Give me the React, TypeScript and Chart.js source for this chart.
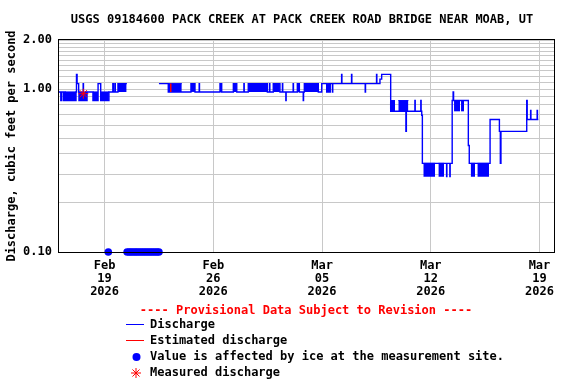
import React, { useEffect, useRef } from 'react';
import { Chart, registerables } from 'chart.js';

Chart.register(...registerables);

const TITLE = 'USGS 09184600 PACK CREEK AT PACK CREEK ROAD BRIDGE NEAR MOAB, UT';
const Y_TITLE = 'Discharge, cubic feet per second';
const PROVISIONAL = '---- Provisional Data Subject to Revision ----';
const LEGEND_LABELS = [
  'Discharge',
  'Estimated discharge',
  'Value is affected by ice at the measurement site.',
  'Measured discharge',
];

// x values are days since 2026-02-16 00:00
const X_MIN = 0;
const X_MAX = 32;
const xTickDays = [3, 10, 17, 24, 31];
const xTickLabels = [
  ['Feb', '19', '2026'],
  ['Feb', '26', '2026'],
  ['Mar', '05', '2026'],
  ['Mar', '12', '2026'],
  ['Mar', '19', '2026'],
];

const Y_MIN = 0.1;
const Y_MAX = 2;
const yGridValues = [0.1, 0.2, 0.3, 0.4, 0.5, 0.6, 0.7, 0.8, 0.9, 1, 1.1, 1.2, 1.3, 1.4, 1.5, 1.6, 1.7, 1.8, 1.9, 2];
const yTickLabels: Record<string, string> = { '0.1': '0.10', '1': '1.00', '2': '2.00' };

// Discharge (cfs), step values: [day, value] value holds until next day
const dischargeSteps: [number, number | null][] = [
  [0.0, 0.96], [0.18, 0.85], [0.24, 0.96], [0.36, 0.85], [0.42, 0.96],
  [0.45, 0.85], [1.16, 0.96], [1.19, 1.23], [1.23, 1.08], [1.33, 0.96],
  [1.35, 0.85], [1.62, 1.08], [1.64, 0.85], [1.87, 0.96], [2.25, 0.85],
  [2.58, 1.08], [2.75, 0.85], [3.28, 0.96], [3.53, 1.08], [3.56, 0.96],
  [3.66, 1.08], [3.69, 0.96], [3.86, 1.08], [4.42, 1.08], [4.46, null],
  [6.5, 1.08], [7.1, 0.96], [7.97, 0.96], [8.56, 1.08], [8.82, 0.96],
  [9.09, 1.08], [9.11, 0.96], [10.43, 1.08], [10.54, 0.96], [11.29, 1.08],
  [11.51, 0.96], [11.97, 1.08], [11.99, 0.96], [12.25, 1.08], [13.48, 0.96],
  [13.62, 1.08], [13.64, 0.96], [13.86, 1.08], [14.29, 0.96], [14.45, 1.08],
  [14.47, 0.96], [14.67, 0.85], [14.69, 0.96], [15.14, 1.08], [15.16, 0.96],
  [15.41, 1.08], [15.54, 0.96], [15.79, 0.85], [15.81, 0.96], [15.86, 1.08],
  [16.76, 0.96], [16.98, 1.08], [17.3, 0.96], [17.45, 1.08], [17.51, 0.96],
  [17.53, 1.08], [17.67, 0.96], [17.69, 1.08], [18.26, 1.23], [18.28, 1.08],
  [18.9, 1.23], [18.92, 1.08], [19.78, 0.96], [19.8, 1.08], [20.51, 1.23],
  [20.53, 1.08], [20.73, 1.15], [20.84, 1.23], [21.42, 0.73], [21.7, 0.73],
  [22.4, 0.55], [22.43, 0.73], [22.98, 0.85], [23.0, 0.73], [23.36, 0.85],
  [23.38, 0.73], [23.42, 0.69], [23.46, 0.35], [25.02, 0.29], [25.04, 0.35],
  [25.23, 0.29], [25.25, 0.35], [25.38, 0.85], [25.44, 0.96], [25.47, 0.85],
  [26.42, 0.45], [26.48, 0.35], [27.82, 0.65], [28.42, 0.55], [28.48, 0.35],
  [28.52, 0.55], [30.18, 0.85], [30.21, 0.65], [30.43, 0.74], [30.45, 0.65],
  [30.85, 0.74], [30.87, 0.65], [30.93, 0.65],
];

// Rapidly alternating periods: [start, end] days, drawn between a top and bottom value
const blocks096over085: [number, number][] = [[0.45, 1.16], [1.35, 1.87], [2.25, 2.58], [2.75, 3.28]];
const blocks108over096: [number, number][] = [
  [3.86, 4.42], [7.1, 7.97], [8.56, 8.82], [10.43, 10.54], [11.29, 11.51],
  [12.25, 13.48], [13.86, 14.29], [15.41, 15.54], [15.86, 16.76], [17.3, 17.45],
];
const blocks085over073: [number, number][] = [[21.42, 21.7], [21.91, 22.56], [25.5, 25.89], [25.95, 26.14]];
const blocks035over029: [number, number][] = [[23.52, 24.28], [24.49, 24.86], [26.57, 26.85], [27.0, 27.75]];

const estimatedSegment: [number, number][] = [[7.26, 1.08], [7.26, 0.96]];
const measuredPoints: [number, number][] = [[1.63, 0.936]];
const iceDays = [3.24, 4.45, 4.58, 4.7, 4.83, 4.96, 5.08, 5.21, 5.34, 5.47, 5.6, 5.73, 5.86, 5.99, 6.12, 6.25, 6.38, 6.5];
const ICE_VALUE = 0.1;

const BLUE = '#0000ff';
const RED = '#ff0000';
const FONT = '"DejaVu Sans Mono", monospace';

function blockData(spans: [number, number][], top: number) {
  const out: { x: number; y: number | null }[] = [];
  spans.forEach(([s, e], i) => {
    if (i > 0) out.push({ x: (spans[i - 1][1] + s) / 2, y: null });
    out.push({ x: s, y: top }, { x: e, y: top });
  });
  return out;
}

function blockDataset(spans: [number, number][], top: number, bottom: number) {
  return {
    data: blockData(spans, top),
    borderColor: BLUE,
    backgroundColor: BLUE,
    borderWidth: 1,
    pointRadius: 0,
    fill: { value: bottom },
    spanGaps: false,
  };
}

const decorPlugin = {
  id: 'decor',
  afterDraw(chart: any) {
    const { ctx, chartArea: a } = chart;
    ctx.save();
    // frame
    ctx.strokeStyle = '#000';
    ctx.lineWidth = 1;
    ctx.strokeRect(Math.round(a.left) + 0.5, Math.round(a.top) - 0.5, Math.round(a.right - a.left) - 1, Math.round(a.bottom - a.top) + 1);
    // title
    ctx.font = `bold 12px ${FONT}`;
    ctx.fillStyle = '#000';
    ctx.textAlign = 'center';
    ctx.textBaseline = 'middle';
    ctx.fillText(TITLE, 302, 19.5);
    // provisional
    ctx.fillStyle = RED;
    ctx.fillText(PROVISIONAL, 306, 311);
    // legend rows
    const rowsY = [325, 341, 357, 373];
    ctx.textAlign = 'left';
    ctx.fillStyle = '#000';
    LEGEND_LABELS.forEach((t, i) => ctx.fillText(t, 150, rowsY[i]));
    ctx.lineWidth = 1;
    ctx.strokeStyle = BLUE;
    ctx.beginPath();
    ctx.moveTo(126, rowsY[0] - 0.5);
    ctx.lineTo(144, rowsY[0] - 0.5);
    ctx.stroke();
    ctx.strokeStyle = RED;
    ctx.beginPath();
    ctx.moveTo(126, rowsY[1] - 0.5);
    ctx.lineTo(144, rowsY[1] - 0.5);
    ctx.stroke();
    ctx.fillStyle = BLUE;
    ctx.beginPath();
    ctx.arc(136.5, rowsY[2], 4, 0, Math.PI * 2);
    ctx.fill();
    ctx.strokeStyle = RED;
    const sx = 136, sy = rowsY[3], r = 5;
    ctx.beginPath();
    ctx.moveTo(sx - r, sy); ctx.lineTo(sx + r, sy);
    ctx.moveTo(sx, sy - r); ctx.lineTo(sx, sy + r);
    const d = r * 0.707;
    ctx.moveTo(sx - d, sy - d); ctx.lineTo(sx + d, sy + d);
    ctx.moveTo(sx - d, sy + d); ctx.lineTo(sx + d, sy - d);
    ctx.stroke();
    ctx.restore();
  },
};

export default function App() {
  const ref = useRef<HTMLCanvasElement>(null);
  useEffect(() => {
    if (!ref.current) return;
    Chart.defaults.font.family = FONT;
    const chart = new Chart(ref.current, {
      type: 'line',
      data: {
        datasets: [
          {
            data: estimatedSegment.map(([x, y]) => ({ x, y })),
            borderColor: RED,
            borderWidth: 1.5,
            pointRadius: 0,
            fill: false,
          },
          {
            data: measuredPoints.map(([x, y]) => ({ x, y })),
            showLine: false,
            pointStyle: 'star',
            pointRadius: 5,
            pointBorderColor: RED,
            pointBorderWidth: 1,
            borderColor: RED,
          },
          {
            data: iceDays.map((x) => ({ x, y: ICE_VALUE })),
            showLine: false,
            pointRadius: 3.8,
            pointBackgroundColor: BLUE,
            pointBorderColor: BLUE,
            pointBorderWidth: 0,
            clip: false,
          },
          {
            data: dischargeSteps.map(([x, y]) => ({ x, y })),
            borderColor: BLUE,
            borderWidth: 1.4,
            pointRadius: 0,
            stepped: 'before',
            spanGaps: false,
            fill: false,
          },
          blockDataset(blocks096over085, 0.96, 0.85),
          blockDataset(blocks108over096, 1.08, 0.96),
          blockDataset(blocks085over073, 0.85, 0.73),
          blockDataset(blocks035over029, 0.35, 0.29),
        ] as any,
      },
      options: {
        animation: false,
        responsive: false,
        events: [],
        layout: { padding: { top: 40, right: 21, left: 0, bottom: 0 } },
        plugins: { legend: { display: false }, tooltip: { enabled: false }, title: { display: false } },
        scales: {
          x: {
            type: 'linear',
            min: X_MIN,
            max: X_MAX,
            afterBuildTicks: (scale: any) => {
              scale.ticks = xTickDays.map((v) => ({ value: v }));
            },
            afterFit: (scale: any) => {
              scale.height = 132;
            },
            ticks: {
              autoSkip: false,
              maxRotation: 0,
              padding: 7,
              color: '#000',
              font: { family: FONT, size: 12, weight: 'bold', lineHeight: 1.1 },
              callback: (_v: any, i: number) => xTickLabels[i] ?? '',
            },
            grid: { color: '#c8c8c8', lineWidth: 1, drawTicks: false },
            border: { display: false },
          },
          y: {
            type: 'logarithmic',
            min: Y_MIN,
            max: Y_MAX,
            afterBuildTicks: (scale: any) => {
              scale.ticks = yGridValues.map((v) => ({ value: v }));
            },
            afterFit: (scale: any) => {
              scale.width = 58;
            },
            ticks: {
              autoSkip: false,
              padding: 6,
              color: '#000',
              font: { family: FONT, size: 12, weight: 'bold' },
              callback: (v: any) => yTickLabels[String(v)] ?? '',
            },
            grid: { color: '#c8c8c8', lineWidth: 1, drawTicks: false },
            border: { display: false },
            title: {
              display: true,
              text: Y_TITLE,
              color: '#000',
              font: { family: FONT, size: 12, weight: 'bold' },
              padding: { top: 5, bottom: 0 },
            },
          },
        },
      } as any,
      plugins: [decorPlugin],
    });
    return () => chart.destroy();
  }, []);
  return (
    <div style={{ position: 'absolute', left: 0, top: 0, width: 576, height: 384, background: '#fff' }}>
      <canvas ref={ref} width={576} height={384} style={{ display: 'block' }} />
    </div>
  );
}
